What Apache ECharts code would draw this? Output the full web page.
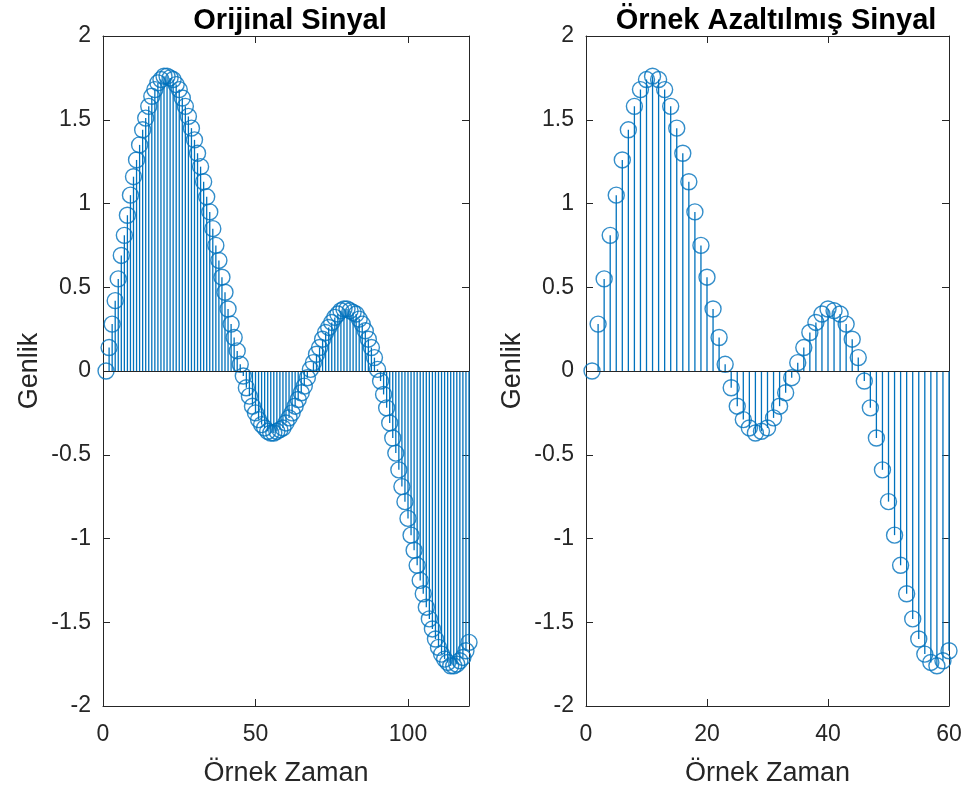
<!DOCTYPE html>
<html>
<head>
<meta charset="utf-8">
<script src="https://cdn.jsdelivr.net/npm/echarts@6/dist/echarts.min.js"></script>
<style>
  html, body { margin: 0; padding: 0; background: #ffffff; }
  #chart { width: 968px; height: 793px; }
</style>
</head>
<body>
<div id="chart"></div>
<script>
// Original signal samples (n = 1..120)
const orijinalSinyal = [
  0, 0.14, 0.28, 0.42, 0.55, 0.69, 0.81, 0.93, 1.05, 1.16,
  1.26, 1.35, 1.44, 1.51, 1.58, 1.64, 1.68, 1.72, 1.74, 1.76,
  1.76, 1.75, 1.74, 1.71, 1.68, 1.63, 1.58, 1.52, 1.45, 1.38,
  1.30, 1.22, 1.13, 1.04, 0.95, 0.85, 0.75, 0.66, 0.56, 0.47,
  0.37, 0.28, 0.20, 0.12, 0.04, -0.03, -0.10, -0.15, -0.21, -0.25,
  -0.29, -0.32, -0.34, -0.36, -0.37, -0.37, -0.36, -0.35, -0.34, -0.31,
  -0.28, -0.25, -0.21, -0.17, -0.13, -0.09, -0.04, 0.01, 0.05, 0.10,
  0.14, 0.19, 0.23, 0.26, 0.29, 0.32, 0.34, 0.36, 0.37, 0.37,
  0.36, 0.35, 0.34, 0.31, 0.28, 0.24, 0.19, 0.14, 0.08, 0.01,
  -0.06, -0.14, -0.22, -0.31, -0.40, -0.49, -0.59, -0.69, -0.78, -0.88,
  -0.98, -1.07, -1.16, -1.25, -1.33, -1.41, -1.48, -1.54, -1.60, -1.65,
  -1.69, -1.72, -1.74, -1.76, -1.76, -1.75, -1.73, -1.71, -1.67, -1.62
];

// Downsampled signal samples (k = 1..60)
const azaltilmisSinyal = [
  0, 0.28, 0.55, 0.81, 1.05, 1.26, 1.44, 1.58, 1.68, 1.74,
  1.76, 1.74, 1.68, 1.58, 1.45, 1.30, 1.13, 0.95, 0.75, 0.56,
  0.37, 0.20, 0.04, -0.10, -0.21, -0.29, -0.34, -0.37, -0.36, -0.34,
  -0.28, -0.21, -0.13, -0.04, 0.05, 0.14, 0.23, 0.29, 0.34, 0.37,
  0.36, 0.34, 0.28, 0.19, 0.08, -0.06, -0.22, -0.40, -0.59, -0.78,
  -0.98, -1.16, -1.33, -1.48, -1.60, -1.69, -1.74, -1.76, -1.73, -1.67
];

const titles = ['Orijinal Sinyal', 'Örnek Azaltılmış Sinyal'];
const xName = 'Örnek Zaman';
const yName = 'Genlik';
// [min, max, tick interval, label the max end?]
const xRanges = [[0, 120, 50, false], [0, 60, 20, true]];
const yRange = [-2, 2, 0.5];

const FONT = "'Liberation Sans', Arial, Helvetica, sans-serif";
const STEM = '#0072BD';
const AXIS = '#262626';

const grids = [
  { left: 103, top: 36, width: 366, height: 670 },
  { left: 586, top: 36, width: 363, height: 670 }
];
const titleCenters = [285, 771];

function toPairs(arr) {
  return arr.map((v, i) => [i + 1, v]);
}

const xAxes = [];
const yAxes = [];
const series = [];
const titleList = [];

[orijinalSinyal, azaltilmisSinyal].forEach((sig, g) => {
  const [xmin, xmax, xint, showMax] = xRanges[g];
  const axisLine = { show: true, onZero: false, lineStyle: { color: AXIS, width: 1 } };
  const tick = { show: true, inside: true, length: 7, lineStyle: { color: AXIS, width: 1 } };
  // bottom x axis
  xAxes.push({
    type: 'value', gridIndex: g, position: 'bottom', min: xmin, max: xmax, interval: xint,
    axisLine, axisTick: tick, splitLine: { show: false },
    axisLabel: { color: AXIS, fontFamily: FONT, fontSize: 23, margin: 17, showMaxLabel: showMax },
    name: xName, nameLocation: 'middle', nameGap: 54,
    nameTextStyle: { color: AXIS, fontFamily: FONT, fontSize: 27 }
  });
  // top x axis (box)
  xAxes.push({
    type: 'value', gridIndex: g, position: 'top', min: xmin, max: xmax, interval: xint,
    axisLine, axisTick: tick, splitLine: { show: false }, axisLabel: { show: false }
  });
  // left y axis
  yAxes.push({
    type: 'value', gridIndex: g, position: 'left', min: yRange[0], max: yRange[1], interval: yRange[2],
    axisLine, axisTick: tick, splitLine: { show: false },
    axisLabel: { color: AXIS, fontFamily: FONT, fontSize: 23, margin: 12 },
    name: yName, nameLocation: 'middle', nameGap: 60, nameRotate: 90,
    nameTextStyle: { color: AXIS, fontFamily: FONT, fontSize: 27 }
  });
  // right y axis (box)
  yAxes.push({
    type: 'value', gridIndex: g, position: 'right', min: yRange[0], max: yRange[1], interval: yRange[2],
    axisLine, axisTick: tick, splitLine: { show: false }, axisLabel: { show: false }
  });

  const pts = toPairs(sig);
  // stems
  series.push({
    type: 'bar', xAxisIndex: g * 2, yAxisIndex: g * 2, data: pts,
    barWidth: 1.3, itemStyle: { color: STEM }, silent: true, animation: false,
    markLine: {
      silent: true, symbol: ['none', 'none'], label: { show: false },
      lineStyle: { color: AXIS, width: 1.2, type: 'solid' },
      data: [{ yAxis: 0 }], animation: false
    }
  });
  // open circle markers
  series.push({
    type: 'scatter', xAxisIndex: g * 2, yAxisIndex: g * 2, data: pts,
    symbol: 'circle', symbolSize: 16,
    itemStyle: { color: 'rgba(0,0,0,0)', borderColor: STEM, borderWidth: 1.4 },
    silent: true, animation: false, z: 3
  });

  titleList.push({
    text: titles[g],
    left: titleCenters[g],
    textAlign: 'center',
    top: 1,
    textStyle: { fontFamily: FONT, fontSize: 29, fontWeight: 'bold', color: '#000000' }
  });
});

const chart = echarts.init(document.getElementById('chart'), null, { renderer: 'canvas' });
chart.setOption({
  backgroundColor: '#ffffff',
  animation: false,
  title: titleList,
  grid: grids,
  xAxis: xAxes,
  yAxis: yAxes,
  series: series
});
</script>
</body>
</html>
